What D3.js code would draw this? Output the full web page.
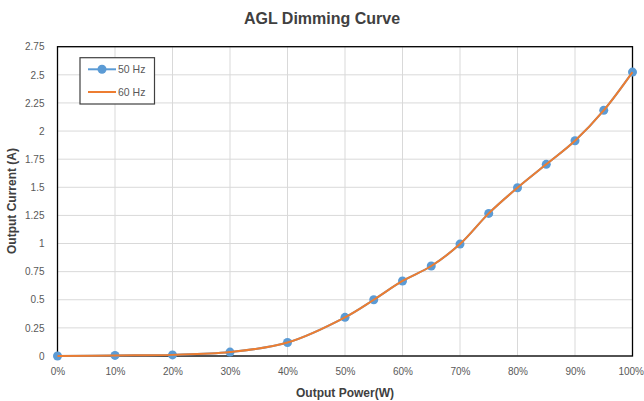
<!DOCTYPE html>
<html><head><meta charset="utf-8">
<script src="https://cdn.jsdelivr.net/npm/d3@7"></script>
<style>body{margin:0;background:#fff;} text{font-family:"Liberation Sans",Arial,sans-serif;}</style>
</head><body>
<svg id="c" width="644" height="401"></svg>
<script>
const powerPct = [0,10,20,30,40,50,55,60,65,70,75,80,85,90,95,100];
const current50 = [0,0.005,0.01,0.035,0.12,0.344,0.50,0.667,0.80,0.995,1.268,1.496,1.704,1.914,2.184,2.524];
const current60 = [0,0.005,0.01,0.035,0.12,0.344,0.50,0.667,0.80,0.995,1.268,1.496,1.704,1.914,2.184,2.524];
const xTicks = [0,10,20,30,40,50,60,70,80,90,100];
const yTicks = [0,0.25,0.5,0.75,1,1.25,1.5,1.75,2,2.25,2.5,2.75];
const seriesNames = ["50 Hz","60 Hz"];

const svg = d3.select("#c");
const L=57.5,R=632.5,T=46.7,B=356;
const x = d3.scaleLinear().domain([0,100]).range([L,R]);
const y = d3.scaleLinear().domain([0,2.75]).range([B,T]);

// grid
svg.append("g").selectAll("line").data(xTicks).join("line")
  .attr("x1",d=>x(d)).attr("x2",d=>x(d)).attr("y1",T).attr("y2",B)
  .attr("stroke","#d9d9d9").attr("stroke-width",1);
svg.append("g").selectAll("line").data(yTicks).join("line")
  .attr("x1",L).attr("x2",R).attr("y1",d=>y(d)).attr("y2",d=>y(d))
  .attr("stroke","#d9d9d9").attr("stroke-width",1);

// axes labels
const xa = svg.append("g").attr("transform",`translate(0,${B})`)
  .call(d3.axisBottom(x).tickValues(xTicks).tickFormat(d=>d+"%").tickSize(0).tickPadding(12));
xa.select(".domain").remove();
xa.selectAll("text").attr("fill","#595959").attr("font-size","10px");
xa.selectAll(".tick").filter(d=>d===100).select("text").attr("text-anchor","end").attr("x",11);
const ya = svg.append("g").attr("transform",`translate(${L},0)`)
  .call(d3.axisLeft(y).tickValues(yTicks).tickFormat(d=>d3.format("")(d)).tickSize(0).tickPadding(13));
ya.select(".domain").remove();
ya.selectAll("text").attr("fill","#595959").attr("font-size","10px");

// border
svg.append("rect").attr("x",L).attr("y",T).attr("width",R-L).attr("height",B-T)
  .attr("fill","none").attr("stroke","#000").attr("stroke-width",1.3);

// lines
const line = d3.line().x((d,i)=>x(powerPct[i])).y(d=>y(d)).curve(d3.curveCatmullRom.alpha(0.5));
svg.append("path").datum(current50).attr("d",line).attr("fill","none").attr("stroke","#5b9bd5").attr("stroke-width",2);
svg.append("g").selectAll("circle").data(current50).join("circle")
  .attr("cx",(d,i)=>x(powerPct[i])).attr("cy",d=>y(d)).attr("r",4.5).attr("fill","#5b9bd5");
svg.append("path").datum(current60).attr("d",line).attr("fill","none").attr("stroke","#ed7d31").attr("stroke-width",2);

// legend
const lg = svg.append("g");
lg.append("rect").attr("x",80).attr("y",57.7).attr("width",74.5).attr("height",46.3)
  .attr("fill","#fff").attr("stroke","#404040").attr("stroke-width",1.2);
lg.append("line").attr("x1",88).attr("x2",116).attr("y1",69.3).attr("y2",69.3).attr("stroke","#5b9bd5").attr("stroke-width",2);
lg.append("circle").attr("cx",102).attr("cy",69.3).attr("r",4.5).attr("fill","#5b9bd5");
lg.append("line").attr("x1",88).attr("x2",116).attr("y1",92).attr("y2",92).attr("stroke","#ed7d31").attr("stroke-width",2);
lg.selectAll("text.l").data(seriesNames).join("text").attr("class","l")
  .attr("x",118).attr("y",(d,i)=>i?92:69.3).attr("dy","0.35em")
  .attr("font-size","10.5px").attr("fill","#595959").text(d=>d);

// titles
svg.append("text").attr("x",322).attr("y",24).attr("text-anchor","middle")
  .attr("font-size","16px").attr("font-weight","bold").attr("fill","#404040").text("AGL Dimming Curve");
svg.append("text").attr("x",345).attr("y",397).attr("text-anchor","middle")
  .attr("font-size","12px").attr("font-weight","bold").attr("fill","#404040").text("Output Power(W)");
svg.append("text").attr("transform","translate(16,201) rotate(-90)").attr("text-anchor","middle")
  .attr("font-size","12px").attr("font-weight","bold").attr("fill","#404040").text("Output Current (A)");
</script>
</body></html>
